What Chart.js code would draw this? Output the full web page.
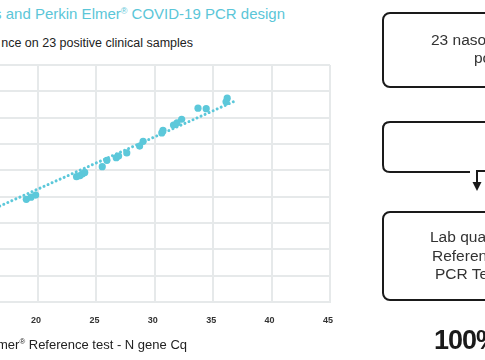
<!DOCTYPE html>
<html>
<head>
<meta charset="utf-8">
<script src="https://cdn.jsdelivr.net/npm/chart.js@4/dist/chart.umd.min.js"></script>
<style>
  html, body { margin: 0; padding: 0; background: #fff; }
  body { width: 485px; height: 360px; overflow: hidden; position: relative;
         font-family: "Liberation Sans", Arial, sans-serif; }
  .txt { position: absolute; white-space: nowrap; }
  .right { text-align: right; }
  sup { font-size: 0.6em; vertical-align: 0.6em; line-height: 0; }
  #chart-wrap { position: absolute; left: -220px; top: 0; width: 560px; height: 360px; }
  #flow { position: absolute; left: 0; top: 0; }
  .box-txt { font-size: 15.5px; line-height: 18px; color: #333; }
</style>
</head>
<body>

<div class="txt right" style="right:200px; top:3.5px; font-size:15px; line-height:19px; color:#5bc6d8;">s and Perkin Elmer<sup>®</sup> COVID-19 PCR design</div>
<div class="txt right" style="right:292px; top:35.5px; font-size:12.5px; line-height:15px; color:#222;">nce on 23 positive clinical samples</div>

<div id="chart-wrap"><canvas id="scatter-chart"></canvas></div>

<div class="txt right" style="right:298px; top:336.5px; font-size:13px; line-height:16px; color:#222;">Perkin Elmer<sup>®</sup> Reference test - N gene Cq</div>

<svg id="flow" width="485" height="360">
  <rect x="383" y="13" width="200" height="74" rx="7" fill="none" stroke="#1a1a1a" stroke-width="2"/>
  <path d="M 490 122 H 390 Q 383 122 383 129 V 165 Q 383 172 390 172 H 470" fill="none" stroke="#1a1a1a" stroke-width="2"/>
  <path d="M 490 171 H 477 V 183" fill="none" stroke="#1a1a1a" stroke-width="2"/>
  <polygon points="472.5,182 481.5,182 477,191" fill="#1a1a1a"/>
  <rect x="383" y="212" width="200" height="88" rx="7" fill="none" stroke="#1a1a1a" stroke-width="2"/>
</svg>

<div class="txt box-txt" style="left:431px; top:30.6px;">23 nasopharyngeal swabs</div>
<div class="txt box-txt" style="left:474px; top:49.1px;">positive samples</div>

<div class="txt box-txt" style="left:430px; top:228.3px;">Lab quantification on</div>
<div class="txt box-txt" style="left:432px; top:246.6px;">Reference Perkin Elmer</div>
<div class="txt box-txt" style="left:435px; top:264.9px;">PCR Test</div>

<div class="txt" style="left:434px; top:324.7px; font-size:27px; line-height:30px; font-weight:bold; letter-spacing:-1px; color:#1a1a1a;">100%</div>

<script>
// Perkin Elmer reference test Cq (x) vs. compared test Cq (y)
const refCq  = [19.0, 19.4, 19.8, 23.3, 23.6, 23.8, 24.0, 25.5, 25.9, 26.7, 26.9, 27.6,
                28.7, 29.0, 30.6, 30.7, 31.6, 31.9, 32.3, 33.7, 34.4, 36.1, 36.2];
const testCq = [19.5, 19.9, 20.3, 23.8, 24.0, 24.3, 24.6, 25.7, 26.9, 27.4, 27.7, 28.3,
                29.6, 30.5, 32.1, 32.6, 33.6, 34.0, 34.7, 36.8, 36.7, 38.0, 38.7];

// linear trend line end points
const trendX = [15, 37];
const trendY = [16.5, 38.3];

const pointColor = '#5cc8da';
const gridColor = '#e6e9ea';

document.addEventListener('DOMContentLoaded', function() {
    const ctx = document.getElementById('scatter-chart').getContext('2d');

    const points = refCq.map((x, i) => ({ x: x, y: testCq[i] }));
    const trend = trendX.map((x, i) => ({ x: x, y: trendY[i] }));

    new Chart(ctx, {
        type: 'scatter',
        data: {
            datasets: [{
                label: 'Samples',
                data: points,
                backgroundColor: pointColor,
                borderWidth: 0,
                pointRadius: 3.6
            }, {
                type: 'line',
                label: 'Trend',
                data: trend,
                showLine: true,
                borderColor: pointColor,
                borderWidth: 3,
                borderDash: [0.01, 4.4],
                borderCapStyle: 'round',
                pointRadius: 0,
                fill: false
            }]
        },
        options: {
            responsive: true,
            maintainAspectRatio: false,
            animation: false,
            layout: {
                padding: { left: 24.4, right: 10, top: 65, bottom: 0 }
            },
            plugins: {
                legend: { display: false },
                tooltip: { enabled: false }
            },
            scales: {
                x: {
                    type: 'linear',
                    min: 0,
                    max: 45,
                    ticks: {
                        stepSize: 5,
                        padding: 13,
                        labelOffset: -2,
                        color: '#333',
                        font: { family: '"Liberation Sans", Arial, sans-serif', size: 9, weight: 'bold' }
                    },
                    grid: { color: gridColor, lineWidth: 2, drawTicks: false },
                    border: { color: gridColor, width: 2 },
                    afterFit: function(scale) {
                        scale.height = 58;
                        scale.paddingLeft = 0;
                        scale.paddingRight = 0;
                    }
                },
                y: {
                    type: 'linear',
                    min: 0,
                    max: 45,
                    ticks: { stepSize: 5, display: false },
                    grid: { color: gridColor, lineWidth: 2, drawTicks: false },
                    border: { display: false },
                    afterFit: function(scale) {
                        scale.width = 0;
                        scale.paddingTop = 0;
                        scale.paddingBottom = 0;
                    }
                }
            }
        }
    });
});
</script>
</body>
</html>
